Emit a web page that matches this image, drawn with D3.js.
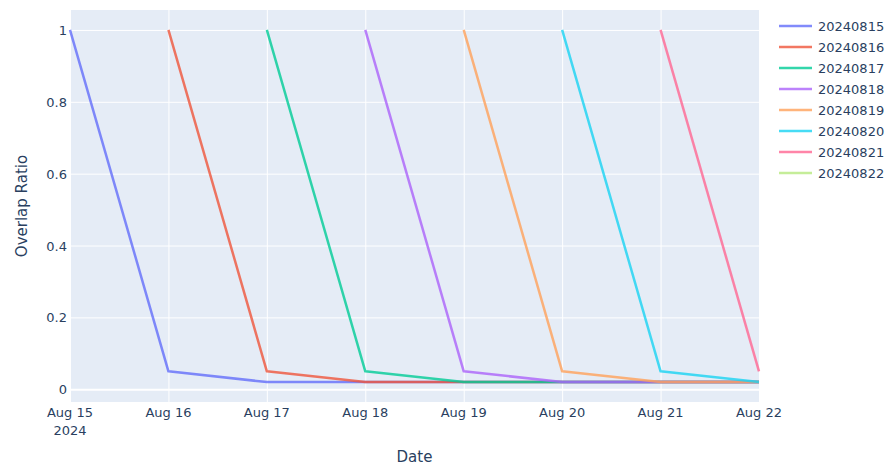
<!DOCTYPE html>
<html><head><meta charset="utf-8">
<script src="https://cdn.jsdelivr.net/npm/d3@7"></script>
<style>body{margin:0;background:#fff;font-family:Verdana,"DejaVu Sans",sans-serif;}</style>
</head><body><svg id="c" width="887" height="467"></svg>
<script>
const dates = ["2024-08-15","2024-08-16","2024-08-17","2024-08-18","2024-08-19","2024-08-20","2024-08-21","2024-08-22"];
const seriesNames = ["20240815","20240816","20240817","20240818","20240819","20240820","20240821","20240822"];
const colors = ["#636efa","#EF553B","#00cc96","#ab63fa","#FFA15A","#19d3f3","#FF6692","#B6E880"];
// values per series, starting at the series' own date
const s0 = [1,0.05,0.02,0.02,0.02,0.02,0.02,0.02];
const s1 = [1,0.05,0.02,0.02,0.02,0.02,0.02];
const s2 = [1,0.05,0.02,0.02,0.02,0.02];
const s3 = [1,0.05,0.02,0.02,0.02];
const s4 = [1,0.05,0.02,0.02];
const s5 = [1,0.05,0.02];
const s6 = [1,0.05];
const s7 = [1];
const seriesValues = [s0,s1,s2,s3,s4,s5,s6,s7];
const yTicks = [0,0.2,0.4,0.6,0.8,1];

const parse = d3.timeParse("%Y-%m-%d");
const svg = d3.select("#c").style("font-family",'Verdana,"DejaVu Sans",sans-serif');
const L=70,R=759,T=10,B=402;
const x = d3.scaleTime().domain([parse(dates[0]), parse(dates[dates.length-1])]).range([L,R]);
const y = d3.scaleLinear().domain([-0.0355,1.0555]).range([B,T]);
const fc = "#2a3f5f";

svg.append("rect").attr("x",L).attr("y",T).attr("width",R-L).attr("height",B-T).attr("fill","#e5ecf6");

// grid
const gx = svg.append("g").attr("transform",`translate(0,${B})`)
  .call(d3.axisBottom(x).tickValues(dates.map(parse)).tickSize(-(B-T)).tickFormat(""));
gx.select(".domain").remove();
gx.selectAll("line").attr("stroke","#fff").attr("stroke-width",1);
const gy = svg.append("g").attr("transform",`translate(${L},0)`)
  .call(d3.axisLeft(y).tickValues(yTicks).tickSize(-(R-L)).tickFormat(""));
gy.select(".domain").remove();
gy.selectAll("line").attr("stroke","#fff").attr("stroke-width",d=>d===0?2:1);

// x labels
const fmt = d3.timeFormat("%b %-d");
const xl = svg.append("g");
dates.forEach((d,i)=>{
  const t = xl.append("text").attr("x",x(parse(d))).attr("y",B+15).attr("text-anchor","middle")
    .attr("font-size",13).attr("fill",fc);
  t.append("tspan").attr("x",x(parse(d))).attr("dy","0").text(fmt(parse(d)));
  if(i===0) t.append("tspan").attr("x",x(parse(d))).attr("dy","18").text("2024");
});
// y labels
svg.append("g").selectAll("text").data(yTicks).join("text")
  .attr("x",L-3).attr("y",d=>y(d)+5).attr("text-anchor","end").attr("font-size",13).attr("fill",fc)
  .text(d=>d3.format("~g")(d));

// titles
svg.append("text").attr("x",(L+R)/2).attr("y",462).attr("text-anchor","middle").attr("font-size",15).attr("fill",fc).text("Date");
svg.append("text").attr("transform",`translate(27,${(T+B)/2}) rotate(-90)`).attr("text-anchor","middle").attr("font-size",15).attr("fill",fc).text("Overlap Ratio");

// lines
const line = d3.line().x(d=>x(d.date)).y(d=>y(d.v));
seriesNames.forEach((name,i)=>{
  const pts = seriesValues[i].map((v,j)=>({date:parse(dates[i+j]), v}));
  svg.append("path").datum(pts).attr("d",line).attr("fill","none")
    .attr("stroke",colors[i]).attr("stroke-width",2.5).attr("stroke-opacity",0.8)
    .attr("stroke-linejoin","round");
});

// legend
const lg = svg.append("g");
seriesNames.forEach((name,i)=>{
  const yy = 26 + i*21;
  lg.append("line").attr("x1",779).attr("x2",812).attr("y1",yy).attr("y2",yy)
    .attr("stroke",colors[i]).attr("stroke-width",2.5).attr("stroke-opacity",0.8);
  lg.append("text").attr("x",818).attr("y",yy+5).attr("font-size",13).attr("fill",fc).text(name);
});
</script></body></html>
